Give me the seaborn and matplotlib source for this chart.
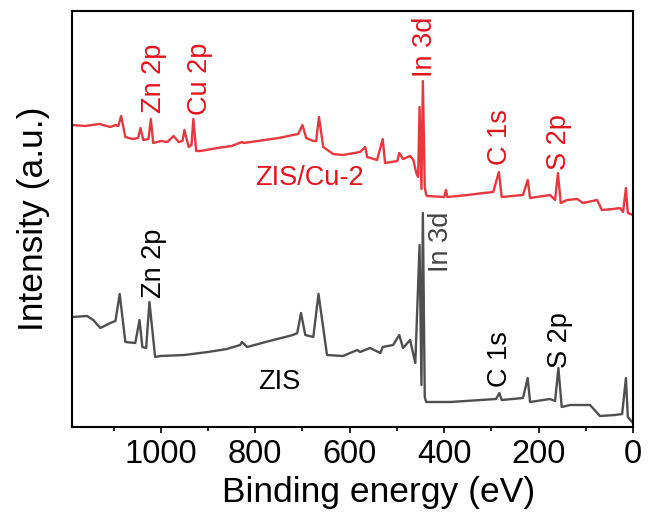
import numpy as np
import pandas as pd
import seaborn as sns
import matplotlib
matplotlib.use("Agg")
import matplotlib.pyplot as plt
from matplotlib.ticker import MultipleLocator

# XPS survey spectra (binding energy in eV, intensity in a.u.)
cu_energy = [1187, 1160, 1130, 1107, 1096, 1090, 1084, 1075, 1060, 1048, 1043, 1037, 1026,
             1021, 1016, 1000, 986, 973, 962, 954, 950, 941, 935, 931, 925, 916, 880,
             850, 828, 825, 780, 750, 720, 709, 700, 692, 677, 671, 665, 656, 635,
             614, 578, 567, 563, 542, 530, 525, 499, 495, 487, 472, 465, 459, 455,
             452, 448, 445, 441, 438, 436, 400, 396, 393, 350, 317, 296, 284, 278,
             233, 223, 218, 176, 165, 159, 153, 140, 118, 106, 76, 66, 42, 28, 21,
             15, 11, 0]
cu_intensity = [302, 301, 303, 300, 302, 301, 311, 290, 288, 289, 299, 287, 288,
                308, 284, 286, 285, 291, 285, 286, 297, 280, 282, 308, 276, 276, 279,
                281, 285, 284, 287, 289, 292, 293, 302, 289, 286, 286, 310, 280, 273,
                272, 275, 280, 270, 267, 288, 264, 266, 274, 268, 271, 267, 254, 250,
                320, 238, 346, 240, 232, 231, 230, 237, 230, 232, 234, 235, 255, 230,
                232, 247, 229, 232, 227, 254, 224, 227, 228, 224, 227, 217, 218, 219,
                215, 239, 214, 212]

zis_energy = [1187, 1156, 1143, 1128, 1107, 1096, 1087, 1075, 1054, 1045, 1039, 1031,
              1024, 1012, 1001, 950, 900, 860, 832, 828, 817, 770, 720, 711, 703,
              694, 677, 666, 648, 614, 584, 578, 557, 535, 530, 508, 495, 487, 472,
              461, 452, 448, 445, 441, 438, 387, 290, 283, 278, 233, 223, 218, 176,
              165, 158, 151, 133, 91, 70, 38, 23, 15, 11, 0]
zis_intensity = [110, 111, 107, 99, 104, 106, 133, 85, 84, 107, 80, 79,
                 125, 70, 71, 72, 75, 78, 82, 85, 80, 86, 92, 94, 114,
                 92, 90, 133, 72, 71, 77, 75, 79, 74, 80, 82, 92, 79, 87,
                 64, 182, 42, 214, 30, 25, 25, 28, 34, 27, 29, 49, 25, 28,
                 26, 59, 20, 22, 22, 11, 12, 13, 49, 10, 4]

# peak assignments: (text, energy, intensity at text bottom)
cu_peaks = [("Zn 2p", 1015, 314), ("Cu 2p", 916, 312), ("In 3d", 441, 350),
            ("C 1s", 281, 262), ("S 2p", 157, 257)]
zis_peaks = [("Zn 2p", 1014, 129), ("In 3d", 406, 155), ("C 1s", 281, 40),
             ("S 2p", 154, 59)]

red_line = "#E8383D"
red_text = "#E3141B"
gray_line = "#4F4F4F"

sns.set_theme(style="white")
plt.rcParams["font.family"] = ["Liberation Sans", "DejaVu Sans"]

fig = plt.figure(figsize=(6.48, 5.13), dpi=100)
ax = fig.add_axes([72 / 648, 86 / 513, 561 / 648, 416 / 513])

df_cu = pd.DataFrame({"energy": cu_energy, "intensity": cu_intensity})
df_zis = pd.DataFrame({"energy": zis_energy, "intensity": zis_intensity})

sns.lineplot(data=df_zis, x="energy", y="intensity", estimator=None, sort=False,
             color=gray_line, linewidth=1.7, ax=ax)
sns.lineplot(data=df_cu, x="energy", y="intensity", estimator=None, sort=False,
             color=red_line, linewidth=1.7, ax=ax)

for name, e, i in cu_peaks:
    ax.text(e, i, name, rotation=90, ha="center", va="bottom", color=red_text, fontsize=19.5)
for name, e, i in zis_peaks:
    c = "#444444" if name == "In 3d" else "black"
    ax.text(e, i, name, rotation=90, ha="center", va="bottom", color=c, fontsize=19.5)

ax.text(686, 249, "ZIS/Cu-2", ha="center", va="center", color=red_text, fontsize=19.5)
ax.text(749, 45, "ZIS", ha="center", va="center", color="black", fontsize=19.5)

ax.set_xlim(1188, 0)
ax.set_ylim(0, 416)
ax.xaxis.set_major_locator(MultipleLocator(200))
ax.xaxis.set_minor_locator(MultipleLocator(100))
ax.set_yticks([])
ax.tick_params(axis="x", which="major", direction="out", length=4.5, width=1.2,
               labelsize=23.5, pad=4, color="black", labelcolor="black", bottom=True)
ax.tick_params(axis="x", which="minor", direction="out", length=3, width=1.2,
               color="black", bottom=True)

for sp in ax.spines.values():
    sp.set_visible(True)
    sp.set_color("black")
    sp.set_linewidth(1.5)

ax.set_xlabel("Binding energy (eV)", fontsize=25.5, color="black")
ax.set_ylabel("Intensity (a.u.)", fontsize=25.5, color="black")
ax.xaxis.set_label_coords(0.547, -0.118)
ax.yaxis.set_label_coords(-0.04, 0.5)

fig.savefig("out.png", dpi=100)
